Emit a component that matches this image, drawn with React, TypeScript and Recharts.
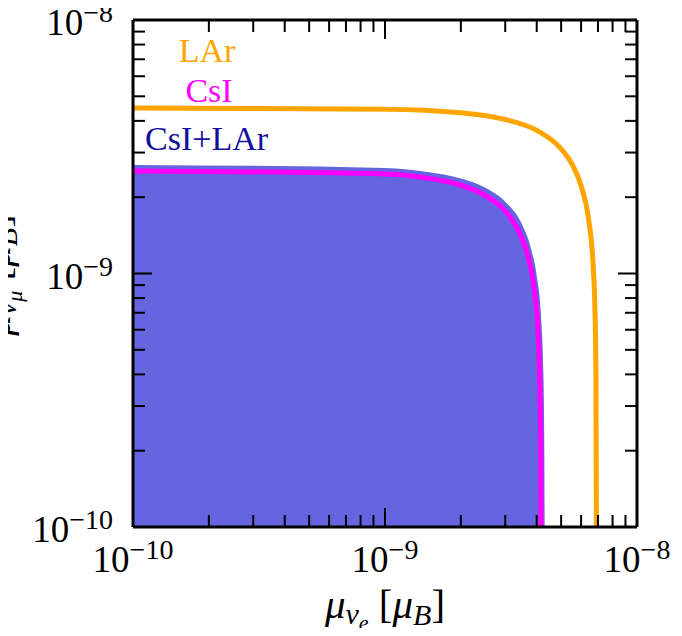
import React from 'react';
import { ComposedChart, Line, Area, XAxis, YAxis, Customized } from 'recharts';

// log-log exclusion contours
const larX = [1e-10, 1e-9, 2e-9, 3e-9, 4e-9, 5e-9, 5.5e-9, 6e-9, 6.4e-9, 6.7e-9, 6.8e-9, 6.87e-9, 6.9e-9];
const larY = [4.5e-9, 4.45e-9, 4.31e-9, 4.05e-9, 3.67e-9, 3.1e-9, 2.72e-9, 2.22e-9, 1.68e-9, 1.07e-9, 7.6e-10, 4.2e-10, 1e-10];

const csiX = [1e-10, 1e-9, 1.5e-9, 2e-9, 2.5e-9, 3e-9, 3.4e-9, 3.7e-9, 3.9e-9, 4.05e-9, 4.12e-9, 4.15e-9, 4.16e-9];
const csiY = [2.54e-9, 2.47e-9, 2.37e-9, 2.23e-9, 2.03e-9, 1.76e-9, 1.46e-9, 1.16e-9, 8.8e-10, 5.8e-10, 3.5e-10, 1.76e-10, 1e-10];

const combX = [1e-10, 1e-9, 1.5e-9, 2e-9, 2.5e-9, 3e-9, 3.5e-9, 3.8e-9, 4e-9, 4.15e-9, 4.25e-9, 4.29e-9, 4.3e-9];
const combY = [2.68e-9, 2.61e-9, 2.51e-9, 2.37e-9, 2.18e-9, 1.92e-9, 1.56e-9, 1.25e-9, 9.8e-10, 7.0e-10, 4.1e-10, 1.8e-10, 1e-10];

const axisTicks = [
  1e-10, 2e-10, 3e-10, 4e-10, 5e-10, 6e-10, 7e-10, 8e-10, 9e-10,
  1e-9, 2e-9, 3e-9, 4e-9, 5e-9, 6e-9, 7e-9, 8e-9, 9e-9, 1e-8,
];
const axisDomain = [1e-10, 1e-8];

const ORANGE = '#FFA500';
const MAGENTA = '#FF00FF';
const FILL = '#6565DF';
const NAVY = '#10109C';
const FONT = '"Liberation Serif", "DejaVu Serif", serif';

// merge the three series onto one x table
const rows = new Map<number, any>();
const put = (xs: number[], ys: number[], key: string) => {
  xs.forEach((x, i) => {
    const r = rows.get(x) || { x };
    r[key] = ys[i];
    rows.set(x, r);
  });
};
put(larX, larY, 'lar');
put(csiX, csiY, 'csi');
put(combX, combY, 'comb');
const data = Array.from(rows.values()).sort((a, b) => a.x - b.x);

const MAJOR = 19;
const MINOR = 12;

const isMajor = (v: number) => Math.abs(Math.log10(v) - Math.round(Math.log10(v))) < 1e-6;

const TickLabel = ({ x, y, v, anchor }: any) => (
  <text x={x} y={y} textAnchor={anchor} fontFamily={FONT} fontSize={37} fill="#000">
    10
    <tspan dy={-13} fontSize={28}>{`\u2212${Math.abs(Math.round(Math.log10(v)))}`}</tspan>
  </text>
);

const BottomTick = ({ x, y, payload }: any) => {
  const major = isMajor(payload.value);
  return (
    <g>
      <line x1={x} y1={y} x2={x} y2={y - (major ? MAJOR : MINOR)} stroke="#000" strokeWidth={2} />
      {major && <TickLabel x={x} y={y + 45} v={payload.value} anchor="middle" />}
    </g>
  );
};

const TopTick = ({ x, y, payload }: any) => {
  const major = isMajor(payload.value);
  return <line x1={x} y1={y} x2={x} y2={y + (major ? MAJOR : MINOR)} stroke="#000" strokeWidth={2} />;
};

const LeftTick = ({ x, y, payload }: any) => {
  const major = isMajor(payload.value);
  return (
    <g>
      <line x1={x} y1={y} x2={x + (major ? MAJOR : MINOR)} y2={y} stroke="#000" strokeWidth={2} />
      {major && <TickLabel x={x - 20} y={y + 15} v={payload.value} anchor="end" />}
    </g>
  );
};

const RightTick = ({ x, y, payload }: any) => {
  const major = isMajor(payload.value);
  return <line x1={x} y1={y} x2={x - (major ? MAJOR : MINOR)} y2={y} stroke="#000" strokeWidth={2} />;
};

const AxisTitle = ({ sub }: { sub: string }) => (
  <>
    <tspan fontStyle="italic">μ</tspan>
    <tspan dy={6} fontSize={30} fontStyle="italic">ν</tspan>
    <tspan dy={6} fontSize={22} fontStyle="italic">{sub}</tspan>
    <tspan dy={-12}> [</tspan>
    <tspan fontStyle="italic">μ</tspan>
    <tspan dy={7} fontSize={30} fontStyle="italic">B</tspan>
    <tspan dy={-7}>]</tspan>
  </>
);

const Annotations = () => (
  <g fontFamily={FONT}>
    <text x={207} y={62} fontSize={34} fill={ORANGE} textAnchor="middle">LAr</text>
    <text x={209} y={102} fontSize={34} fill={MAGENTA} textAnchor="middle">CsI</text>
    <text x={145} y={150} fontSize={34} fill={NAVY}>CsI+LAr</text>
    <text x={385} y={618} fontSize={41} fill="#000" textAnchor="middle">
      <AxisTitle sub="e" />
    </text>
    <text x={10} y={275} fontSize={41} fill="#000" textAnchor="middle" transform="rotate(-90 10 275)">
      <AxisTitle sub="μ" />
    </text>
  </g>
);

const App: React.FC = () => {
  const frame = { stroke: '#000', strokeWidth: 3 };
  return (
    <div style={{ margin: '-8px 0 -8px -8px', width: 682, height: 636 }}>
      <ComposedChart width={682} height={636} data={data} margin={{ top: 19, right: 44, bottom: 0, left: 0 }}>
        <XAxis
          xAxisId="b" dataKey="x" type="number" scale="log" domain={axisDomain} allowDataOverflow
          ticks={axisTicks} interval={0} tick={<BottomTick />} tickLine={false} tickSize={0} tickMargin={0}
          axisLine={frame} height={109}
        />
        <XAxis
          xAxisId="t" orientation="top" dataKey="x" type="number" scale="log" domain={axisDomain} allowDataOverflow
          ticks={axisTicks} interval={0} tick={<TopTick />} tickLine={false} tickSize={0} tickMargin={0}
          axisLine={frame} height={1}
        />
        <YAxis
          yAxisId="l" type="number" scale="log" domain={axisDomain} allowDataOverflow
          ticks={axisTicks} interval={0} tick={<LeftTick />} tickLine={false} tickSize={0} tickMargin={0}
          axisLine={frame} width={133}
        />
        <YAxis
          yAxisId="r" orientation="right" type="number" scale="log" domain={axisDomain} allowDataOverflow
          ticks={axisTicks} interval={0} tick={<RightTick />} tickLine={false} tickSize={0} tickMargin={0}
          axisLine={frame} width={1}
        />
        <Area
          xAxisId="b" yAxisId="l" dataKey="comb" type="monotone" connectNulls baseValue={1e-10}
          stroke="none" fill={FILL} fillOpacity={1} isAnimationActive={false}
        />
        <Line
          xAxisId="b" yAxisId="l" dataKey="csi" type="monotone" connectNulls stroke={MAGENTA}
          strokeWidth={5} dot={false} isAnimationActive={false}
        />
        <Line
          xAxisId="b" yAxisId="l" dataKey="lar" type="monotone" connectNulls stroke={ORANGE}
          strokeWidth={5} dot={false} isAnimationActive={false}
        />
        <Customized component={<Annotations />} />
      </ComposedChart>
    </div>
  );
};

export default App;
